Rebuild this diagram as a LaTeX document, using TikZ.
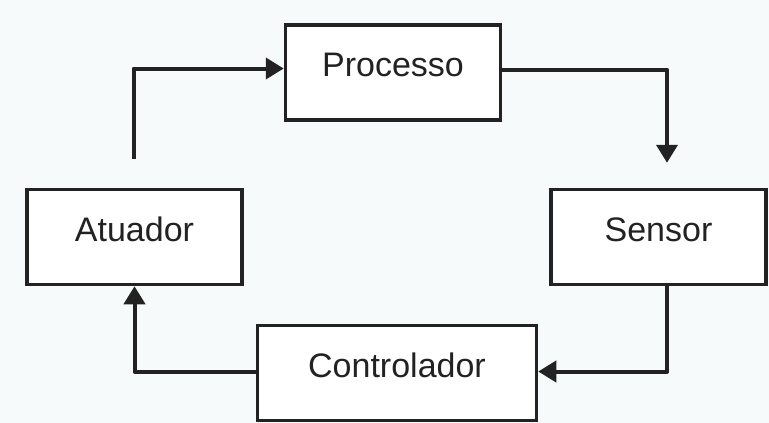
\documentclass[tikz,border=0pt]{standalone}
\usepackage{fontspec}
\setmainfont{Liberation Sans}
\usetikzlibrary{arrows.meta, positioning, calc}
\definecolor{bgpaper}{RGB}{246,250,251}
\definecolor{inkgray}{RGB}{34,34,34}

\begin{document}
\begin{tikzpicture}[
        x=1pt, y=1pt,
        block/.style={draw=inkgray, line width=3.5pt, fill=white, minimum height=95pt,
            text=inkgray, font=\fontsize{34}{40}\selectfont, text height=24pt, text depth=16pt},
        flow/.style={draw=inkgray, line width=4pt, line join=round,
            -{Triangle[length=18pt, width=21pt]}}
    ]
        \fill[bgpaper] (0,0) rectangle (769,-423);
        \useasboundingbox (0,0) rectangle (769,-423);

        \node[block, minimum width=215pt] (atuador) at (134.5,-237) {Atuador};
        \node[block, minimum width=215pt, above right=66pt and 40pt of atuador] (processo) {Processo};
        \node[block, minimum width=215pt, below right=66pt and 47pt of processo] (sensor) {Sensor};
        \node[block, minimum width=279pt, below left=37.5pt and 11pt of sensor] (controlador) {Controlador};

        \coordinate (atuout) at ($(atuador.north)+(-1,29)$);
        \coordinate (sensin) at ($(sensor.north)+(8.5,25)$);

        \draw[flow] (atuout) |- ([yshift=4pt]processo.west);
        \draw[flow] ([yshift=3pt]processo.east) -| (sensin);
        \draw[flow] ([xshift=8.5pt]sensor.south) |- ([yshift=1.5pt]controlador.east);
        \draw[flow] ([yshift=1.5pt]controlador.west) -| (atuador.south);
    \end{tikzpicture}
\end{document}
